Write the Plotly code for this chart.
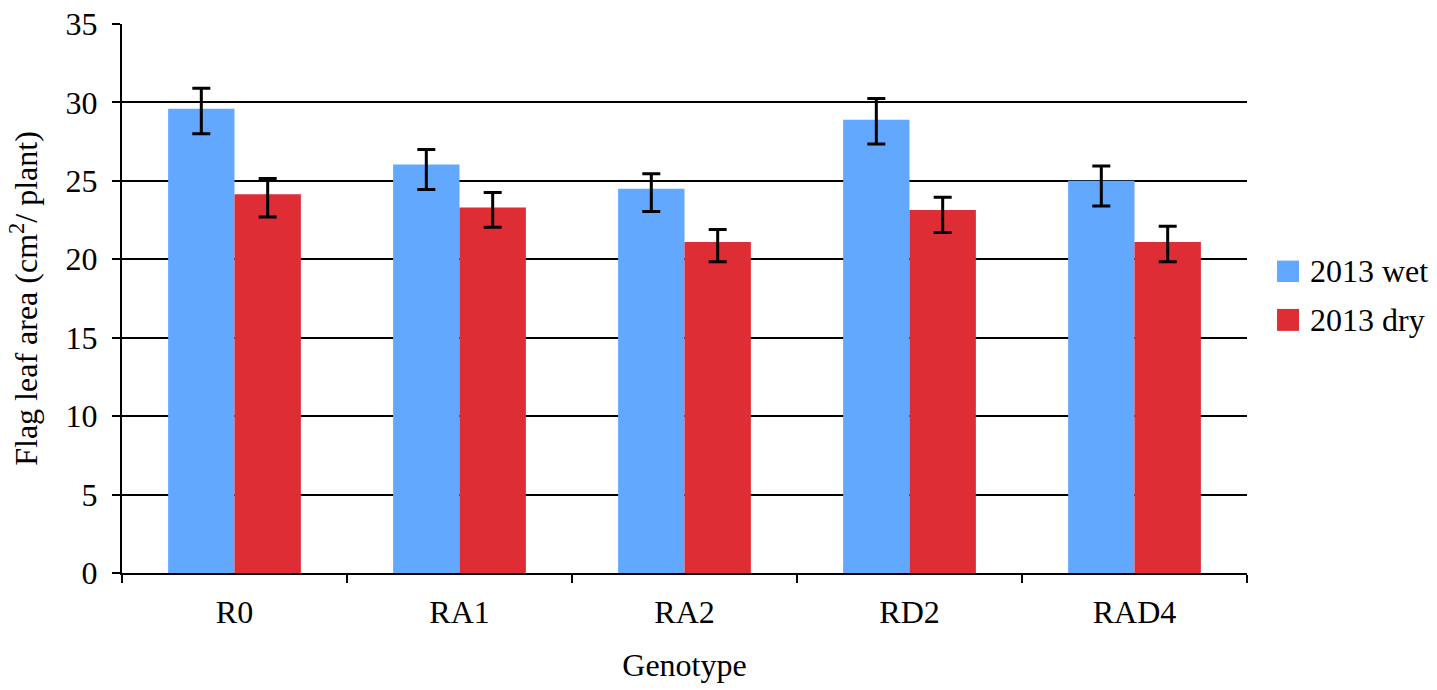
import plotly.graph_objects as go

# Flag leaf area per genotype, two seasons
genotypes = ["R0", "RA1", "RA2", "RD2", "RAD4"]

wet_2013 = [29.6, 26.05, 24.5, 28.9, 25.0]
wet_err_plus = [1.3, 0.95, 0.95, 1.35, 0.95]
wet_err_minus = [1.6, 1.6, 1.45, 1.55, 1.6]

dry_2013 = [24.15, 23.3, 21.1, 23.15, 21.1]
dry_err_plus = [1.0, 0.95, 0.8, 0.8, 1.0]
dry_err_minus = [1.45, 1.25, 1.25, 1.45, 1.25]

series_names = ["2013 wet", "2013 dry"]
series_colors = ["#62A8FF", "#DE2D35"]

FONT = "Liberation Serif"
FS = 32

fig = go.Figure()
for name, vals, ep, em, color in [
    (series_names[0], wet_2013, wet_err_plus, wet_err_minus, series_colors[0]),
    (series_names[1], dry_2013, dry_err_plus, dry_err_minus, series_colors[1]),
]:
    fig.add_trace(go.Bar(
        x=genotypes, y=vals, name=name,
        marker=dict(color=color, line=dict(width=0)),
        error_y=dict(type="data", symmetric=False, array=ep, arrayminus=em,
                     color="black", thickness=3, width=9),
        showlegend=False,
    ))

fig.update_layout(
    width=1437, height=690,
    margin=dict(l=122, r=190, t=24, b=117, autoexpand=False),
    paper_bgcolor="white", plot_bgcolor="white",
    barmode="group", bargap=0.41, bargroupgap=0,
    font=dict(family=FONT, size=FS, color="black"),
    xaxis=dict(
        type="category", showline=True, linecolor="black", linewidth=2,
        ticks="outside", tickson="boundaries", ticklen=8, tickwidth=2,
        tickcolor="black", showgrid=False, ticklabelstandoff=10,
        automargin=False,
        title=dict(text="Genotype", standoff=24,
                   font=dict(family=FONT, size=FS)),
    ),
    yaxis=dict(
        range=[0, 35], dtick=5, showline=True, linecolor="black", linewidth=2,
        ticks="outside", ticklen=8, tickwidth=2, tickcolor="black",
        showgrid=True, gridcolor="black", gridwidth=2, zeroline=False,
        ticklabelstandoff=8, automargin=False,
        title=dict(text="Flag leaf area (cm<sup>2</sup>/ plant)", standoff=18,
                   font=dict(family=FONT, size=FS)),
    ),
)

# Legend drawn as swatches with labels to the right of the plot area
legend_y = [(0.569, 0.530), (0.481, 0.441)]
for (y0, y1), name, color in zip(legend_y, series_names, series_colors):
    fig.add_shape(type="rect", xref="paper", yref="paper",
                  x0=1.0267, x1=1.0462, y0=y1, y1=y0,
                  fillcolor=color, line=dict(width=0))
    fig.add_annotation(xref="paper", yref="paper", x=1.0542, y=(y0 + y1) / 2,
                       text=name, showarrow=False, xanchor="left",
                       yanchor="middle", font=dict(family=FONT, size=FS))

fig.write_html("out.html")
